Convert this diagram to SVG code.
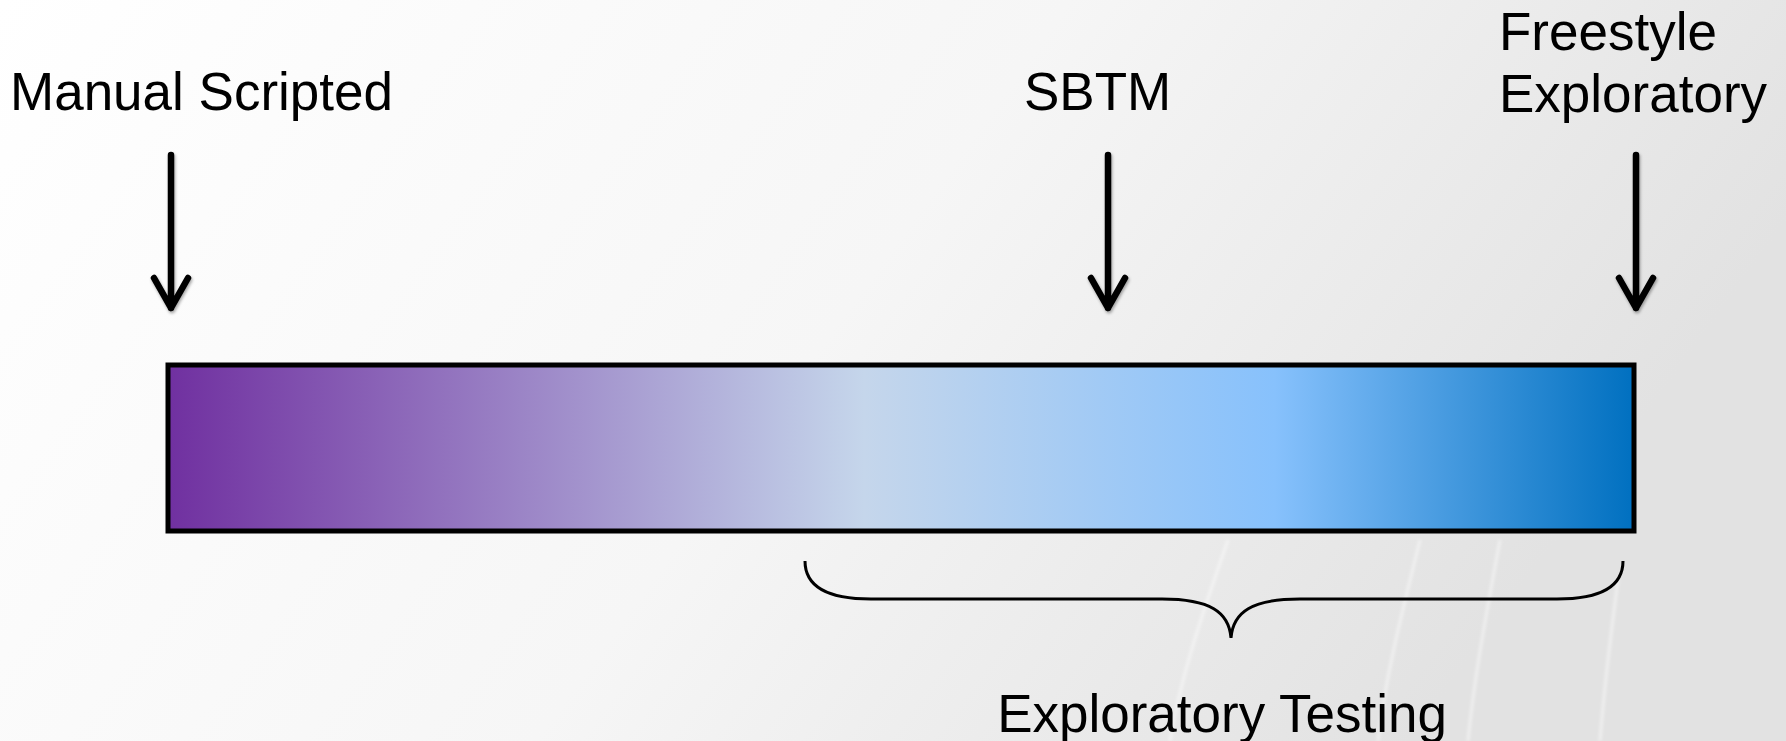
<svg xmlns="http://www.w3.org/2000/svg" width="1786" height="741" viewBox="0 0 1786 741">
  <defs>
    <linearGradient id="bg" x1="0" y1="0" x2="1" y2="0.3">
      <stop offset="0" stop-color="#ffffff"/>
      <stop offset="0.55" stop-color="#f6f6f6"/>
      <stop offset="1" stop-color="#e2e2e2"/>
    </linearGradient>
    <linearGradient id="spectrum" x1="0" y1="0" x2="1" y2="0">
      <stop offset="0" stop-color="#7030a0"/>
      <stop offset="0.475" stop-color="#c5d6eb"/>
      <stop offset="0.755" stop-color="#87c1fc"/>
      <stop offset="1" stop-color="#0070c0"/>
    </linearGradient>
    <filter id="shadow" x="-50%" y="-10%" width="200%" height="130%">
      <feDropShadow dx="1" dy="2" stdDeviation="1.5" flood-color="#000" flood-opacity="0.35"/>
    </filter>
    <filter id="soft" x="-20%" y="-5%" width="140%" height="110%">
      <feGaussianBlur stdDeviation="1.5"/>
    </filter>
  </defs>
  <style>
    .label { font-family: "Liberation Sans", Arial, sans-serif; font-size: 53px; fill: #000; }
    .arrow { fill: none; stroke: #000; stroke-width: 6.5; stroke-linecap: round; stroke-linejoin: round; }
    .brace { fill: none; stroke: #000; stroke-width: 3; }
    .streak { fill: none; stroke: #ffffff; stroke-opacity: 0.45; stroke-width: 3; }
  </style>

  <!-- backdrop with faint light streaks -->
  <rect x="0" y="0" width="1786" height="741" fill="url(#bg)"/>
  <g filter="url(#soft)">
    <path class="streak" d="M1170,741 C1180,680 1200,620 1228,540"/>
    <path class="streak" d="M1378,741 C1385,680 1400,620 1420,540"/>
    <path class="streak" d="M1468,741 C1474,680 1485,620 1500,540"/>
    <path class="streak" d="M1600,741 C1604,690 1610,640 1618,580"/>
  </g>

  <!-- labels -->
  <g id="manual-scripted">
    <text class="label" x="10" y="110">Manual Scripted</text>
  </g>
  <g id="sbtm">
    <text class="label" x="1024" y="110">SBTM</text>
  </g>
  <g id="freestyle-exploratory">
    <text class="label" x="1499" y="50">Freestyle</text>
    <text class="label" x="1499" y="112">Exploratory</text>
  </g>

  <!-- spectrum bar -->
  <g id="spectrum-bar">
    <rect x="168" y="365" width="1466" height="166" fill="url(#spectrum)" stroke="#000" stroke-width="5"/>
  </g>

  <!-- brace and caption -->
  <g id="exploratory-testing">
    <path class="brace" d="M805,561 C805,588 830,599 871,599 L1162,599 C1210,599 1229,612 1231,638 C1233,612 1252,599 1300,599 L1557,599 C1598,599 1623,588 1623,561"/>
    <text class="label" x="1222" y="732" text-anchor="middle">Exploratory Testing</text>
  </g>

  <!-- pointer arrows -->
  <g id="connectors" filter="url(#shadow)">
    <path class="arrow" d="M171,155 L171,308 M154,278 L171,308 L188,278"/>
    <path class="arrow" d="M1108,155 L1108,308 M1091,278 L1108,308 L1125,278"/>
    <path class="arrow" d="M1636,155 L1636,308 M1619,278 L1636,308 L1653,278"/>
  </g>
</svg>
